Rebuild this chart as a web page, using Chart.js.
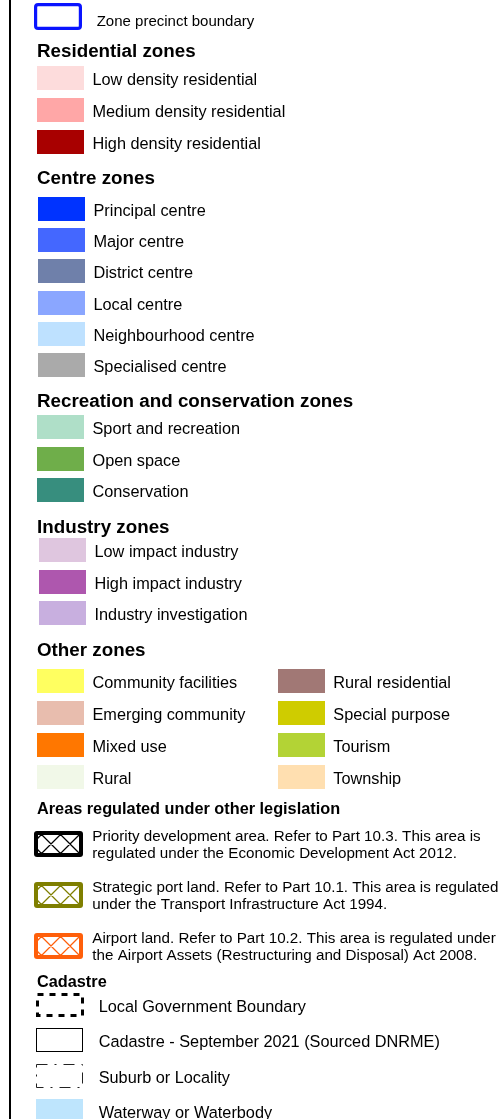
<!DOCTYPE html>
<html><head><meta charset="utf-8">
<script src="https://cdn.jsdelivr.net/npm/chart.js@4/dist/chart.umd.min.js"></script>
<style>html,body{margin:0;padding:0;background:#fff;overflow:hidden}canvas{display:block}</style>
</head><body>
<canvas id="c" width="502" height="1119"></canvas>
<script>
// ---------- legend content ----------
const precinctLabels = ['Zone precinct boundary'];
const precinctColors = ['#0A14FF'];

const residentialTitle = 'Residential zones';
const residentialLabels = ['Low density residential', 'Medium density residential', 'High density residential'];
const residentialColors = ['#FDDCDC', '#FFA7A7', '#A80000'];

const centreTitle = 'Centre zones';
const centreLabels = ['Principal centre', 'Major centre', 'District centre', 'Local centre', 'Neighbourhood centre', 'Specialised centre'];
const centreColors = ['#0033FF', '#4467FF', '#6F80AA', '#8AA6FF', '#BEE1FF', '#AAAAAA'];

const recreationTitle = 'Recreation and conservation zones';
const recreationLabels = ['Sport and recreation', 'Open space', 'Conservation'];
const recreationColors = ['#AFDFC8', '#6FAE4A', '#378E7E'];

const industryTitle = 'Industry zones';
const industryLabels = ['Low impact industry', 'High impact industry', 'Industry investigation'];
const industryColors = ['#DFC6DF', '#AE57AE', '#C8AFDF'];

const otherTitle = 'Other zones';
const otherLabelsLeft = ['Community facilities', 'Emerging community', 'Mixed use', 'Rural'];
const otherColorsLeft = ['#FFFF60', '#E8BDAE', '#FF7700', '#F1F8E8'];
const otherLabelsRight = ['Rural residential', 'Special purpose', 'Tourism', 'Township'];
const otherColorsRight = ['#A17875', '#CFCC00', '#B3D335', '#FFDFB0'];

const legislationTitle = 'Areas regulated under other legislation';
const legislationLabels = [
  ['Priority development area. Refer to Part 10.3. This area is', 'regulated under the Economic Development Act 2012.'],
  ['Strategic port land. Refer to Part 10.1. This area is regulated', 'under the Transport Infrastructure Act 1994.'],
  ['Airport land. Refer to Part 10.2. This area is regulated under', 'the Airport Assets (Restructuring and Disposal) Act 2008.']
];
const legislationColors = ['#000000', '#7F7F00', '#FF5F0A'];

const cadastreTitle = 'Cadastre';
const cadastreLabels = ['Local Government Boundary', 'Cadastre - September 2021 (Sourced DNRME)', 'Suburb or Locality', 'Waterway or Waterbody'];
const cadastreKinds = ['dashed', 'solid', 'dashdot', 'fill'];
const waterColor = '#BEE5FD';

// ---------- swatch drawing helpers ----------
function mk(w, h) { const c = document.createElement('canvas'); c.width = w; c.height = h; return c; }
function rr(g, x, y, w, h, r) {
  g.beginPath(); g.moveTo(x + r, y);
  g.arcTo(x + w, y, x + w, y + h, r); g.arcTo(x + w, y + h, x, y + h, r);
  g.arcTo(x, y + h, x, y, r); g.arcTo(x, y, x + w, y, r); g.closePath();
}
function fillSwatch(color) { const c = mk(47, 24), g = c.getContext('2d'); g.fillStyle = color; g.fillRect(0, 0, 47, 24); return c; }
function precinctSwatch(color) {
  const c = mk(48, 27), g = c.getContext('2d');
  g.strokeStyle = color; g.lineWidth = 3.2; rr(g, 1.6, 1.6, 44.8, 23.8, 2.5); g.stroke(); return c;
}
function hatchSwatch(color) {
  const w = 49, h = 26, c = mk(w, h), g = c.getContext('2d');
  g.fillStyle = color; rr(g, 0, 0, w, h, 3); g.fill();
  g.fillStyle = '#fff'; g.fillRect(4, 4, w - 8, h - 8);
  g.save(); g.beginPath(); g.rect(4, 4, w - 8, h - 8); g.clip();
  g.strokeStyle = color; g.lineWidth = 1.3; g.beginPath();
  for (const a of [-34, -15, 4, 23, 42]) { g.moveTo(4 + a - 4, 0); g.lineTo(4 + a + 22, 26); }
  for (const b of [3, 22, 41, 60, 79]) { g.moveTo(4 + b + 4, 0); g.lineTo(4 + b - 22, 26); }
  g.stroke(); g.restore(); return c;
}
function cadSwatch(kind) {
  if (kind === 'fill') return fillSwatch(waterColor);
  if (kind === 'dashed') {
    const c = mk(48, 24), g = c.getContext('2d');
    g.strokeStyle = '#000'; g.lineWidth = 3; g.setLineDash([6, 6]); g.lineDashOffset = 0;
    g.strokeRect(1.5, 1.5, 45, 21); return c;
  }
  const c = mk(47, 24), g = c.getContext('2d');
  g.strokeStyle = kind === 'solid' ? '#000' : '#222'; g.lineWidth = 1;
  if (kind === 'dashdot') g.setLineDash([11, 7, 2, 7]);
  g.strokeRect(0.5, 0.5, 46, 23); return c;
}

const F = (s, b) => (b ? 'bold ' : '') + s + "px 'Liberation Sans', Arial, Helvetica, sans-serif";

// ---------- layout table built from the arrays ----------
const headingX = 37;
const groups = [
  { labels: precinctLabels, swatches: precinctColors.map(precinctSwatch), left: 34, first: 16.5, step: 0, textX: 96.7, textDy: 9.5, font: F(15) },
  { title: residentialTitle, heading: 56.7, titleFont: F(18.8, true), labels: residentialLabels, swatches: residentialColors.map(fillSwatch), left: 37, first: 78, step: 32, textX: 92.5, textDy: 6.5, font: F(16.3) },
  { title: centreTitle, heading: 184, titleFont: F(18.8, true), labels: centreLabels, swatches: centreColors.map(fillSwatch), left: 38, first: 209, step: 31.2, textX: 93.5, textDy: 6.5, font: F(16.3) },
  { title: recreationTitle, heading: 407.3, titleFont: F(18.8, true), labels: recreationLabels, swatches: recreationColors.map(fillSwatch), left: 37, first: 427, step: 31.5, textX: 92.5, textDy: 6.5, font: F(16.3) },
  { title: industryTitle, heading: 532.7, titleFont: F(18.8, true), labels: industryLabels, swatches: industryColors.map(fillSwatch), left: 39, first: 550, step: 31.5, textX: 94.5, textDy: 6.5, font: F(16.3) },
  { title: otherTitle, heading: 656, titleFont: F(18.8, true), labels: otherLabelsLeft, swatches: otherColorsLeft.map(fillSwatch), left: 37, first: 681, step: 32, textX: 92.5, textDy: 6.5, font: F(16.3) },
  { labels: otherLabelsRight, swatches: otherColorsRight.map(fillSwatch), left: 278, first: 680.5, step: 32, textX: 333.3, textDy: 6.5, font: F(16.3) },
  { title: legislationTitle, heading: 814.3, titleFont: F(16.3, true), labels: legislationLabels, swatches: legislationColors.map(hatchSwatch), left: 34, first: 844, step: 51, textX: 92.3, textDy: -3.3, lineH: 17.3, font: F(15.2) },
  { title: cadastreTitle, heading: 987, titleFont: F(16.3, true), labels: cadastreLabels, swatches: cadastreKinds.map(cadSwatch), left: 36, first: 1005, step: 35.3, textX: 98.7, textDy: 6.5, font: F(16.3) }
];

const datasets = groups.map(g => ({
  data: g.labels.map((_, i) => {
    const sw = g.swatches[i];
    const c = g.first + i * g.step;
    return { x: g.left + sw.width / 2, y: Math.round(c - sw.height / 2) + sw.height / 2 };
  }),
  pointStyle: g.swatches,
  pointRadius: 12,
  showLine: false,
  clip: false
}));

const legendPlugin = {
  id: 'legendText',
  beforeDraw(chart) {
    const ctx = chart.ctx;
    ctx.save();
    ctx.fillStyle = '#fff'; ctx.fillRect(0, 0, chart.width, chart.height);
    ctx.fillStyle = '#000'; ctx.fillRect(9, 0, 2, chart.height);
    ctx.restore();
  },
  afterDatasetsDraw(chart) {
    const ctx = chart.ctx, xs = chart.scales.x, ys = chart.scales.y;
    ctx.save();
    ctx.fillStyle = '#000'; ctx.textAlign = 'left'; ctx.textBaseline = 'alphabetic';
    groups.forEach((g, di) => {
      if (g.title) {
        ctx.font = g.titleFont;
        ctx.fillText(g.title, xs.getPixelForValue(headingX), ys.getPixelForValue(g.heading));
      }
      ctx.font = g.font;
      chart.getDatasetMeta(di).data.forEach((el, i) => {
        [].concat(g.labels[i]).forEach((ln, k) => {
          ctx.fillText(ln, xs.getPixelForValue(g.textX), el.y + g.textDy + k * (g.lineH || 0));
        });
      });
    });
    ctx.restore();
  }
};

new Chart(document.getElementById('c'), {
  type: 'scatter',
  data: { datasets },
  options: {
    responsive: false, animation: false, events: [],
    layout: { padding: 0, autoPadding: false },
    scales: {
      x: { type: 'linear', min: 0, max: 502, display: false },
      y: { type: 'linear', min: 0, max: 1119, reverse: true, display: false }
    },
    plugins: { legend: { display: false }, tooltip: { enabled: false } }
  },
  plugins: [legendPlugin]
});
</script>
</body></html>
